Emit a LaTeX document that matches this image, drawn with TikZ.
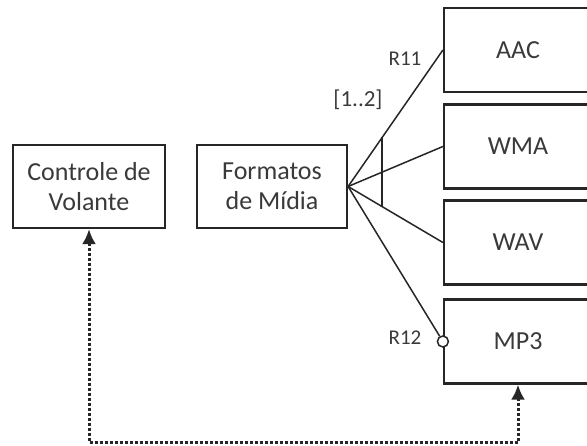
\documentclass[tikz,border=0pt]{standalone}
\usepackage{fontspec}
\setmainfont{Carlito}
\usetikzlibrary{arrows.meta,calc}
\definecolor{txt}{HTML}{3A3A3A}
\begin{document}
\begin{tikzpicture}[x=1pt,y=-1pt,
  box/.style={draw=black!85,line width=2.2pt,rectangle,inner sep=0pt,
    text=txt,font=\fontsize{26}{30}\selectfont,align=center},
  fmtbox/.style={box,minimum width=148pt,minimum height=84pt},
  conn/.style={draw=black!85,line width=1.5pt},
  lbl/.style={text=txt,inner sep=0pt,font=\fontsize{21}{24}\selectfont},
  dep/.style={draw=black!85,line width=3pt,dash pattern=on 3pt off 2pt,
    {Latex[length=15pt,width=14pt]}-{Latex[length=15pt,width=14pt]}}]
\clip (0,0) rectangle (587,446);
\fill[white] (0,0) rectangle (587,446);

% feature nodes
\node[box,minimum width=152pt,minimum height=83pt] (ctrl) at (89,186.5) {Controle de\\Volante};
\node[box,minimum width=150pt,minimum height=83pt] (fmt) at (272,186.5) {Formatos\\de Mídia};

% media format alternatives
\node[fmtbox] (aac) at (518,50) {AAC};
\node[fmtbox] (wma) at (518,146.5) {WMA};
\node[fmtbox] (wav) at (518,242.5) {WAV};
\node[fmtbox] (mp3) at (518,341.5) {MP3};

% optional end marker on MP3
\node[circle,draw=black!85,line width=1.5pt,fill=white,inner sep=0pt,minimum size=11pt] (opt) at (mp3.west) {};

% group relations
\draw[conn] (fmt.east) -- (aac.west);
\draw[conn] (fmt.east) -- (wma.west);
\draw[conn] (fmt.east) -- (wav.west);
\draw[conn] (fmt.east) -- (opt);

% cardinality bar across the group
\coordinate (bt) at ($(fmt.east)!0.36!(aac.west)$);
\coordinate (bb) at ($(fmt.east)!0.36!(wav.west)$);
\draw[conn] (bt) -- (bb);

% labels
\node[lbl] (r11) at (405,59) {R11};
\node[lbl,font=\fontsize{23}{26}\selectfont] (card) at (358,100) {[1..2]};
\node[lbl] (r12) at (405,338) {R12};

% dependency between Controle de Volante and MP3
\draw[dep] (ctrl.south) -- ++(0,213) -| (mp3.south);
\end{tikzpicture}
\end{document}
